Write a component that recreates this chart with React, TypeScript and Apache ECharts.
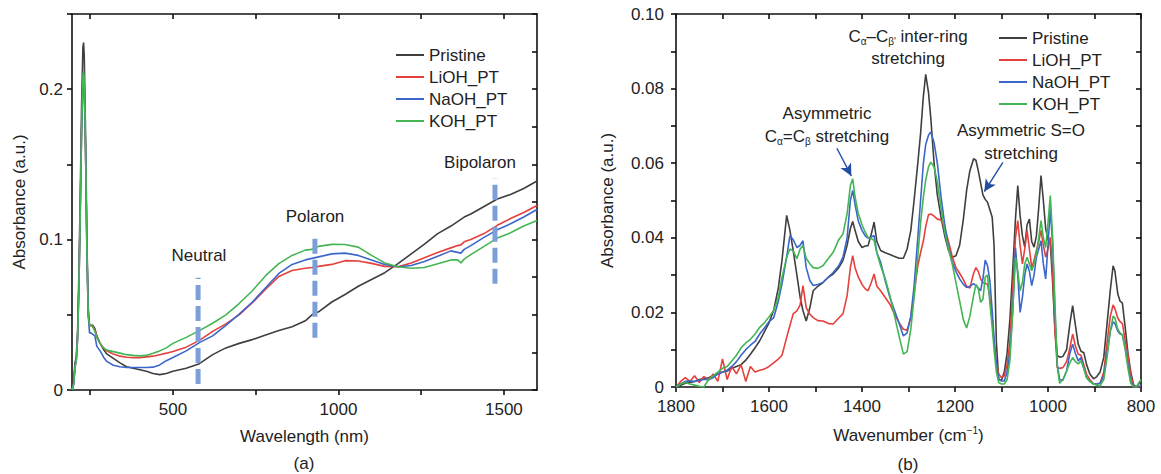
import React, { useEffect, useRef } from 'react';
import * as echarts from 'echarts';

const FONT = '"Liberation Sans", Arial, Helvetica, sans-serif';
const TXT = '#222222';

const seriesNames = ['Pristine', 'LiOH_PT', 'NaOH_PT', 'KOH_PT'];
const seriesColors = ['#3f3f3f', '#e5403b', '#3a67c9', '#43b552'];

// ---------- (a) UV-vis-NIR ----------
const uvWavelength = [195,200,204,208,212,216,220,224,228,230,232,236,240,244,248,252,258,264,270,280,290,300,320,340,360,380,400,420,440,460,480,500,540,580,620,660,700,740,780,820,860,900,920,940,980,1020,1060,1100,1140,1180,1220,1260,1300,1340,1360,1370,1380,1400,1440,1480,1520,1560,1600];
const uvPristine = [0.0,0.006,0.018,0.022,0.04,0.08,0.13,0.19,0.228,0.231,
  0.222,0.17,0.10,0.055,0.043,0.043,0.043,0.041,0.036,0.031,
  0.027,0.024,0.021,0.018,0.0155,0.0145,0.0135,0.0125,0.011,0.0102,
  0.011,0.0125,0.0145,0.0175,0.0235,0.028,0.031,0.0335,0.0365,0.0395,
  0.042,0.046,0.05,0.052,0.0585,0.0635,0.069,0.0735,0.078,0.084,
  0.0905,0.097,0.104,0.109,0.112,0.1135,0.115,0.117,0.122,0.127,
  0.13,0.134,0.139];
const uvLiOH = [0.0,0.004,0.015,0.02,0.035,0.07,0.12,0.172,0.205,0.21,
  0.203,0.158,0.094,0.05,0.043,0.043,0.042,0.04,0.035,0.031,
  0.028,0.026,0.024,0.0225,0.0218,0.0215,0.0215,0.022,0.0225,0.0235,
  0.0245,0.0256,0.0285,0.033,0.039,0.044,0.05,0.058,0.067,0.0755,
  0.0795,0.081,0.0815,0.0822,0.0835,0.086,0.0858,0.0842,0.0822,0.082,
  0.0845,0.088,0.0915,0.0945,0.096,0.0965,0.0985,0.1,0.104,0.1095,
  0.114,0.118,0.1227];
const uvNaOH = [0.0,0.004,0.015,0.02,0.035,0.07,0.12,0.172,0.205,0.21,
  0.203,0.158,0.094,0.05,0.038,0.038,0.037,0.036,0.029,0.026,
  0.022,0.019,0.0165,0.0155,0.015,0.015,0.015,0.015,0.0152,0.0167,
  0.0195,0.0216,0.026,0.0315,0.036,0.043,0.0505,0.0585,0.068,0.0775,
  0.0835,0.0865,0.0875,0.0885,0.0905,0.091,0.0895,0.0865,0.0835,0.082,
  0.0828,0.0855,0.089,0.0925,0.0915,0.091,0.0935,0.096,0.1015,0.1065,
  0.1105,0.115,0.12];
const uvKOH = [0.0,0.004,0.015,0.02,0.035,0.07,0.12,0.175,0.208,0.212,
  0.205,0.16,0.095,0.05,0.043,0.043,0.042,0.039,0.035,0.031,
  0.028,0.0265,0.0255,0.0245,0.0235,0.023,0.0227,0.023,0.0244,0.026,
  0.028,0.031,0.035,0.0395,0.0444,0.05,0.0575,0.066,0.076,0.084,
  0.0895,0.093,0.0935,0.0955,0.0968,0.0967,0.095,0.0895,0.0845,0.082,
  0.081,0.0815,0.084,0.0865,0.0865,0.0845,0.087,0.09,0.0955,0.101,
  0.1045,0.109,0.1127];

const markerNames = ['Neutral', 'Polaron', 'Bipolaron'];
const markerWavelength = [576, 929, 1473];
const markerLow = [0.004, 0.0347, 0.0707];
const markerHigh = [0.0747, 0.104, 0.1407];

const uvXTicks = [250, 500, 750, 1000, 1250, 1500];
const uvXLabels = [500, 1000, 1500];
const uvYTicks = [0, 0.05, 0.1, 0.15, 0.2, 0.25];
const uvYRightTicks = [0, 0.025, 0.05, 0.075, 0.1, 0.125, 0.15, 0.175, 0.2, 0.225, 0.25];
const uvYLabels = [0, 0.1, 0.2];

// ---------- (b) FTIR ----------
const ftirWavenumber = [
  1800,1790,1780,1770,1760,1750,1740,1730,1720,1710,1700,1690,1680,1670,1660,1650,1640,1630,1620,1610,1600,
  1590,1580,1572,1562,1555,1548,1540,1533,1527,1520,1512,1505,1495,1484,1472,1462,1450,1441,1432,1425,1420,1415,1408,1400,1393,1387,1380,1374,1368,1360,
  1350,1340,1330,1320,1311,1303,1295,1288,1280,1274,1268,1263,1257,1252,1245,1238,1230,1222,1214,1206,1198,1190,1182,1175,1168,1160,1155,1150,1145,1140,1135,1130,1125,1120,1116,1111,1106,1100,
  1094,1088,1082,1076,1070,1065,1060,1055,1050,1045,1040,1035,1030,1025,1020,1015,1010,1005,1000,995,990,985,980,975,968,960,953,947,941,935,929,923,917,910,902,895,888,880,873,866,860,856,850,845,840,834,828,822,816,810,805,800];
const ftirPristine = [
  0,0.0005,0.001,0.0012,0.0015,0.002,0.0022,0.0025,0.003,0.0035,0.004,0.0043,0.005,0.0055,0.006,0.0072,0.0088,0.0105,0.0124,0.0148,0.0172,
  0.0205,0.0265,0.034,0.046,0.042,0.0366,0.03,0.024,0.0205,0.0177,0.0213,0.0258,0.027,0.028,0.0295,0.0303,0.032,0.0339,0.038,0.0425,0.0444,0.042,0.039,0.0374,0.0378,0.0379,0.041,0.0442,0.039,0.0366,
  0.036,0.0355,0.035,0.0345,0.0345,0.037,0.042,0.05,0.06,0.068,0.078,0.0838,0.079,0.072,0.06,0.0515,0.0455,0.0405,0.0366,0.0348,0.0352,0.038,0.045,0.0527,0.058,0.0612,0.0608,0.058,0.0548,0.0515,0.0503,0.0495,0.0475,0.0455,0.038,0.012,0.002,0.0018,
  0.004,0.009,0.018,0.031,0.045,0.054,0.046,0.0405,0.0375,0.0435,0.045,0.039,0.0375,0.0405,0.048,0.0567,0.05,0.0425,0.0395,0.0385,0.028,0.015,0.0085,0.008,0.0082,0.01,0.0169,0.0218,0.0165,0.0115,0.0096,0.0092,0.006,0.0035,0.0022,0.0028,0.004,0.008,0.017,0.026,0.0325,0.031,0.025,0.023,0.0225,0.016,0.009,0.004,0.0006,0,0.0008,0.0015];
const ftirLiOH = [
  0,0.0015,0.0025,0.0015,0.003,0.0012,0.0028,0.0018,0.0035,0.0015,0.0075,0.002,0.0055,0.0035,0.006,0.0015,0.0055,0.004,0.0045,0.0048,0.0055,
  0.0065,0.0075,0.0085,0.0133,0.0165,0.0196,0.0204,0.022,0.0272,0.0213,0.0195,0.0186,0.0178,0.0177,0.017,0.0169,0.0185,0.0196,0.0245,0.032,0.0352,0.032,0.0295,0.0275,0.0263,0.0258,0.028,0.0303,0.027,0.0258,
  0.024,0.0222,0.0195,0.0172,0.0155,0.0152,0.0186,0.025,0.0325,0.036,0.0392,0.043,0.0462,0.0464,0.0458,0.045,0.0448,0.0425,0.039,0.035,0.032,0.0305,0.0288,0.027,0.0265,0.0305,0.032,0.031,0.029,0.028,0.0278,0.0275,0.024,0.0185,0.012,0.0065,0.0035,0.0025,
  0.003,0.006,0.012,0.026,0.04,0.0446,0.038,0.033,0.037,0.042,0.037,0.032,0.034,0.0366,0.039,0.042,0.038,0.0348,0.037,0.0401,0.031,0.015,0.0052,0.005,0.0052,0.0068,0.0105,0.0142,0.011,0.0088,0.0085,0.006,0.0034,0.002,0.0008,0.0008,0.001,0.004,0.012,0.019,0.022,0.021,0.0185,0.0175,0.017,0.0125,0.0085,0.003,0.0005,0,0,0];
const ftirNaOH = [
  0,0.0008,0.0015,0.0016,0.0015,0.0018,0.002,0.002,0.0025,0.0035,0.004,0.0045,0.0055,0.0068,0.0085,0.01,0.0112,0.0122,0.0142,0.0158,0.0175,
  0.0185,0.023,0.0277,0.0348,0.0406,0.0395,0.0374,0.038,0.0392,0.032,0.0285,0.0272,0.0275,0.028,0.0295,0.0307,0.0325,0.0348,0.04,0.05,0.0527,0.049,0.0445,0.042,0.0405,0.0399,0.0402,0.0406,0.036,0.0335,
  0.0285,0.024,0.0205,0.017,0.0137,0.0145,0.019,0.027,0.04,0.05,0.06,0.065,0.0675,0.0684,0.0655,0.06,0.051,0.0435,0.0375,0.0335,0.031,0.029,0.0275,0.0267,0.027,0.0277,0.0272,0.0265,0.0258,0.029,0.034,0.0325,0.0285,0.0205,0.013,0.006,0.0022,0.0016,
  0.0016,0.004,0.009,0.02,0.0374,0.03,0.02,0.024,0.03,0.033,0.031,0.0272,0.03,0.0348,0.037,0.0392,0.033,0.029,0.038,0.0478,0.038,0.02,0.006,0.002,0.0018,0.0043,0.009,0.0115,0.009,0.007,0.0079,0.005,0.0025,0.0015,0.0008,0.0008,0.001,0.003,0.009,0.015,0.0175,0.017,0.015,0.0142,0.014,0.0105,0.006,0.0015,0.0003,0,0,0.0005];
const ftirKOH = [
  0,0.0008,0.0012,0.0008,0.0005,0.0002,0,0.002,0.003,0.004,0.005,0.0055,0.007,0.0085,0.0105,0.0118,0.0128,0.0142,0.016,0.0172,0.0188,
  0.0205,0.024,0.0294,0.0348,0.037,0.0365,0.0344,0.037,0.0379,0.0345,0.033,0.032,0.0318,0.0325,0.0345,0.0361,0.0395,0.041,0.0465,0.054,0.0558,0.051,0.0465,0.0435,0.0415,0.0401,0.0398,0.0393,0.036,0.0325,
  0.029,0.0245,0.019,0.0135,0.0088,0.0095,0.0155,0.024,0.035,0.044,0.0509,0.0555,0.059,0.0603,0.059,0.055,0.048,0.0415,0.037,0.033,0.028,0.023,0.018,0.0158,0.019,0.0245,0.0275,0.0265,0.0227,0.0235,0.0295,0.03,0.0225,0.016,0.01,0.004,0.0012,0.0008,
  0.0008,0.002,0.007,0.02,0.0348,0.031,0.0258,0.028,0.033,0.0348,0.033,0.0312,0.033,0.0357,0.04,0.0446,0.04,0.0374,0.044,0.0513,0.04,0.022,0.0055,0.001,0.002,0.0043,0.0065,0.0079,0.0068,0.0062,0.007,0.005,0.0025,0.0015,0.0008,0.0005,0.0003,0.002,0.008,0.015,0.019,0.0185,0.0155,0.0145,0.014,0.01,0.005,0.001,0,0,0.001,0.002];

const ftirXTicks = [800, 900, 1000, 1100, 1200, 1300, 1400, 1500, 1600, 1700, 1800];
const ftirXLabels = [800, 1000, 1200, 1400, 1600, 1800];
const ftirYTicks = [0, 0.01, 0.02, 0.03, 0.04, 0.05, 0.06, 0.07, 0.08, 0.09, 0.1];
const ftirYLabels = [0, 0.02, 0.04, 0.06, 0.08, 0.1];

// arrows: [fromWn, fromVal, toWn, toVal]
const arrowCC = [1454, 0.064, 1423, 0.0566];
const arrowSO = [1097, 0.0602, 1137, 0.0524];

const axisLineStyle = { color: '#111', width: 1.6 };
const labelStyle = { fontSize: 17, color: TXT, fontFamily: FONT };

function zipXY(xs: number[], ys: number[]) {
  return xs.map((x, i) => [x, ys[i]]);
}

function fmtY(digits: number) {
  return (v: number) => (Math.abs(v) < 1e-9 ? '0' : v.toFixed(digits));
}
const fmtX = (v: number) => String(Math.round(v));

export default function App() {
  const ref = useRef<HTMLDivElement>(null);
  useEffect(() => {
    const chart = echarts.init(ref.current!, null, { renderer: 'svg' });
    const uvSets = [uvPristine, uvLiOH, uvNaOH, uvKOH];
    const ftSets = [ftirPristine, ftirLiOH, ftirNaOH, ftirKOH];

    const lineSeries: any[] = [];
    uvSets.forEach((ys, k) => {
      lineSeries.push({
        type: 'line', name: seriesNames[k], xAxisIndex: 0, yAxisIndex: 0,
        data: zipXY(uvWavelength, ys), showSymbol: false, symbol: 'none',
        lineStyle: { color: seriesColors[k], width: 1.6 }, itemStyle: { color: seriesColors[k] },
        silent: true, z: 3 + k,
      });
    });
    markerNames.forEach((n, k) => {
      lineSeries.push({
        type: 'line', name: n + ' marker', xAxisIndex: 0, yAxisIndex: 0,
        data: [[markerWavelength[k], markerLow[k]], [markerWavelength[k], markerHigh[k]]],
        showSymbol: false, symbol: 'none', silent: true, z: 10,
        lineStyle: { color: '#7d9fd8', width: 5, type: [15, 6] },
      });
    });
    ftSets.forEach((ys, k) => {
      const s: any = {
        type: 'line', name: seriesNames[k], xAxisIndex: 2, yAxisIndex: 2,
        data: zipXY(ftirWavenumber, ys), showSymbol: false, symbol: 'none',
        lineStyle: { color: seriesColors[k], width: 1.6 }, itemStyle: { color: seriesColors[k] },
        silent: true, z: 3 + k,
      };
      if (k === 0) {
        s.markLine = {
          silent: true, symbol: ['none', 'arrow'], symbolSize: [9, 12], animation: false,
          lineStyle: { color: '#1f4ea3', width: 1.4, type: 'solid' },
          label: { show: false },
          emphasis: { disabled: true },
          data: [
            [{ coord: [arrowCC[0], arrowCC[1]] }, { coord: [arrowCC[2], arrowCC[3]] }],
            [{ coord: [arrowSO[0], arrowSO[1]] }, { coord: [arrowSO[2], arrowSO[3]] }],
          ],
        };
      }
      lineSeries.push(s);
    });

    const subRich = {
      n: { fontSize: 17, fontFamily: FONT, fill: TXT, lineHeight: 20 },
      s: { fontSize: 10, fontFamily: FONT, fill: TXT, lineHeight: 12, verticalAlign: 'bottom' },
    };
    const txt = (x: number, y: number, text: string) => ({
      type: 'text', x, y, silent: true,
      style: { text, fontSize: 17, fontFamily: FONT, fill: TXT, align: 'center', verticalAlign: 'middle' },
    });
    const rtxt = (x: number, y: number, text: string) => ({
      type: 'text', x, y, silent: true,
      style: { text, rich: subRich, fontSize: 17, fontFamily: FONT, fill: TXT, align: 'center', verticalAlign: 'middle' },
    });

    const legendBase = {
      data: seriesNames, orient: 'vertical', icon: 'rect', itemWidth: 28, itemHeight: 2,
      itemGap: 4, padding: 0, selectedMode: false,
      textStyle: { fontSize: 17, color: TXT, fontFamily: FONT, lineHeight: 18 },
    };

    const option: any = {
      animation: false,
      backgroundColor: '#ffffff',
      textStyle: { fontFamily: FONT },
      grid: [
        { left: 72, top: 14, width: 465, height: 376 },
        { left: 676, top: 14, width: 465, height: 373 },
      ],
      legend: [
        { ...legendBase, left: 396, top: 46 },
        { ...legendBase, left: 999, top: 29 },
      ],
      xAxis: [
        {
          type: 'value', gridIndex: 0, min: 195, max: 1600, position: 'bottom',
          axisLine: { show: true, lineStyle: axisLineStyle, onZero: false },
          axisTick: { show: true, inside: false, length: 5, customValues: uvXTicks, lineStyle: axisLineStyle },
          axisLabel: { ...labelStyle, margin: 11, customValues: uvXLabels, formatter: fmtX },
          splitLine: { show: false },
          name: 'Wavelength (nm)', nameLocation: 'middle', nameGap: 38,
          nameTextStyle: { ...labelStyle },
        },
        {
          type: 'value', gridIndex: 0, min: 195, max: 1600, position: 'top',
          axisLine: { show: true, lineStyle: axisLineStyle, onZero: false },
          axisTick: { show: true, inside: true, length: 5, customValues: uvXTicks, lineStyle: axisLineStyle },
          axisLabel: { show: false }, splitLine: { show: false },
        },
        {
          type: 'value', gridIndex: 1, min: 800, max: 1800, inverse: true, position: 'bottom',
          axisLine: { show: true, lineStyle: axisLineStyle, onZero: false },
          axisTick: { show: true, inside: false, length: 5, customValues: ftirXTicks, lineStyle: axisLineStyle },
          axisLabel: { ...labelStyle, margin: 11, customValues: ftirXLabels, formatter: fmtX },
          splitLine: { show: false },
          name: '{n|Wavenumber (cm}{sup|−1}{n|)}', nameLocation: 'middle', nameGap: 38,
          nameTextStyle: {
            ...labelStyle,
            rich: {
              n: { fontSize: 17, color: TXT, fontFamily: FONT, lineHeight: 20 },
              sup: { fontSize: 10, color: TXT, fontFamily: FONT, lineHeight: 12, verticalAlign: 'top' },
            },
          },
        },
        {
          type: 'value', gridIndex: 1, min: 800, max: 1800, inverse: true, position: 'top',
          axisLine: { show: true, lineStyle: axisLineStyle, onZero: false },
          axisTick: { show: true, inside: true, length: 5, customValues: ftirXTicks, lineStyle: axisLineStyle },
          axisLabel: { show: false }, splitLine: { show: false },
        },
      ],
      yAxis: [
        {
          type: 'value', gridIndex: 0, min: 0, max: 0.25, position: 'left',
          axisLine: { show: true, lineStyle: axisLineStyle, onZero: false },
          axisTick: { show: true, inside: false, length: 5, customValues: uvYTicks, lineStyle: axisLineStyle },
          axisLabel: { ...labelStyle, margin: 9, customValues: uvYLabels, formatter: fmtY(1) },
          splitLine: { show: false },
          name: 'Absorbance (a.u.)', nameLocation: 'middle', nameGap: 44, nameRotate: 90,
          nameTextStyle: { ...labelStyle },
        },
        {
          type: 'value', gridIndex: 0, min: 0, max: 0.25, position: 'right',
          axisLine: { show: true, lineStyle: axisLineStyle, onZero: false },
          axisTick: { show: true, inside: true, length: 5, customValues: uvYRightTicks, lineStyle: axisLineStyle },
          axisLabel: { show: false }, splitLine: { show: false },
        },
        {
          type: 'value', gridIndex: 1, min: 0, max: 0.1, position: 'left',
          axisLine: { show: true, lineStyle: axisLineStyle, onZero: false },
          axisTick: { show: true, inside: false, length: 5, customValues: ftirYTicks, lineStyle: axisLineStyle },
          axisLabel: { ...labelStyle, margin: 12, customValues: ftirYLabels, formatter: fmtY(2) },
          splitLine: { show: false },
          name: 'Absorbance (a.u.)', nameLocation: 'middle', nameGap: 60, nameRotate: 90,
          nameTextStyle: { ...labelStyle },
        },
        {
          type: 'value', gridIndex: 1, min: 0, max: 0.1, position: 'right',
          axisLine: { show: true, lineStyle: axisLineStyle, onZero: false },
          axisTick: { show: true, inside: true, length: 5, customValues: ftirYTicks, lineStyle: axisLineStyle },
          axisLabel: { show: false }, splitLine: { show: false },
        },
      ],
      series: lineSeries,
      graphic: [
        txt(199, 255, 'Neutral'),
        txt(315, 216, 'Polaron'),
        txt(480, 162, 'Bipolaron'),
        rtxt(908, 36, '{n|C}{s|α}{n|–C}{s|β\'}{n| inter-ring}'),
        txt(908, 58, 'stretching'),
        txt(827, 113, 'Asymmetric'),
        rtxt(827, 136, '{n|C}{s|α}{n|=C}{s|β}{n| stretching}'),
        txt(1021, 130, 'Asymmetric S=O'),
        txt(1021, 153, 'stretching'),
        txt(304, 463, '(a)'),
        txt(908, 464, '(b)'),
      ],
    };
    chart.setOption(option);
    return () => chart.dispose();
  }, []);
  return (
    <div
      ref={ref}
      style={{ position: 'fixed', left: 0, top: 0, width: 1161, height: 474, background: '#fff' }}
    />
  );
}
